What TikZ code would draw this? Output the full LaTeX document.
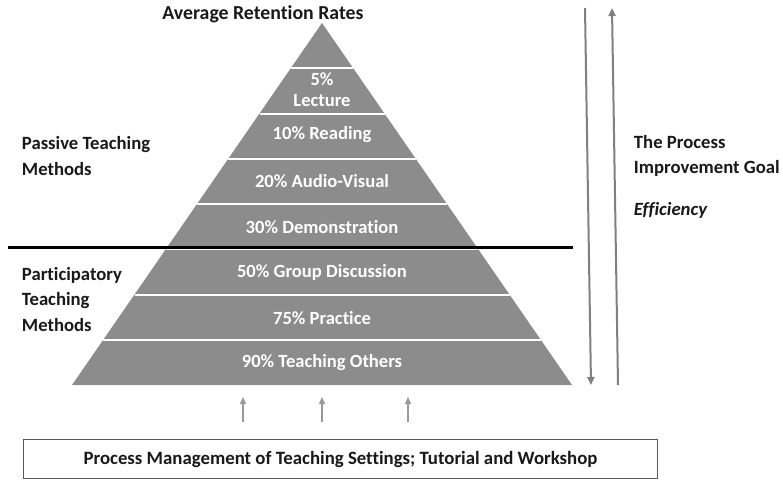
\documentclass[tikz,border=0pt]{standalone}
\usepackage{xcolor}
\usepackage{fontspec}
\setmainfont{Carlito}[Ligatures=NoCommon]
\usepackage{tikz}
\usetikzlibrary{arrows.meta}

\definecolor{pyrgray}{RGB}{140,140,140}
\definecolor{arrgray}{RGB}{128,128,128}
\definecolor{txtdark}{RGB}{25,25,25}

\begin{document}
\begin{tikzpicture}[x=1pt,y=-1pt,
  lbl/.style={inner sep=0.75pt,font=\fontsize{18.7}{25.5}\selectfont\bfseries,text=txtdark,align=left},
  band/.style={inner sep=0.75pt,font=\fontsize{18.6}{21}\selectfont\bfseries,text=white,align=center},
  longarr/.style={draw=arrgray,line width=2pt,-{Triangle[width=7pt,length=8pt]}},
  shortarr/.style={draw=arrgray!80,line width=1.3pt,-{Triangle[width=6pt,length=7pt]}}]
\useasboundingbox (0,0) rectangle (783,480);
% pyramid
\fill[pyrgray] (322,23) -- (572,385) -- (72,385) -- cycle;
\foreach \k in {1,...,7}
  \draw[white,line width=2pt] ({322-31.25*\k},{23+45.25*\k}) -- ({322+31.25*\k},{23+45.25*\k});
\draw[black,line width=2.4pt] (8,247.5) -- (573,247.5);
%Text
\node (title) at (263,14) [lbl,font=\fontsize{19.8}{24}\selectfont\bfseries] {Average Retention Rates};
\node (lecture) at (322,90) [band] {5\%\\Lecture};
\node (reading) at (322,135) [band] {10\% Reading};
\node (audio) at (322,181) [band] {20\% Audio-Visual};
\node (demo) at (322,227) [band] {30\% Demonstration};
\node (group) at (322,272) [band] {50\% Group Discussion};
\node (practice) at (322,318) [band] {75\% Practice};
\node (others) at (322,363) [band] {90\% Teaching Others};
\node (passive) at (21,156) [lbl,anchor=west] {Passive Teaching\\Methods};
\node (particip) at (21,299) [lbl,anchor=west] {Participatory\\Teaching\\Methods};
\node (goal) at (633,156) [lbl,anchor=west] {The Process\\Improvement Goal};
\node (effic) at (633,210) [lbl,anchor=west,font=\fontsize{18.7}{22}\selectfont\bfseries\itshape] {Efficiency};
\node (mgmt) at (340.5,459) [draw=black!65,line width=1.8pt,minimum width=634pt,minimum height=39pt,inner sep=0pt,
  font=\fontsize{18.8}{22}\selectfont\bfseries,text=txtdark] {Process Management of Teaching Settings; Tutorial and Workshop};
% arrows
\coordinate (downtop) at (585,8);
\coordinate (downend) at (591,385);
\coordinate (upfoot) at (618,385);
\coordinate (uptop) at (612,8);
\draw[longarr] (downtop) -- (downend);
\draw[longarr] (upfoot) -- (uptop);
\foreach \x [count=\i] in {243,322,408} {
  \coordinate (foot\i) at (\x,422);
  \coordinate (head\i) at (\x,397);
  \draw[shortarr] (foot\i) -- (head\i);
}
\end{tikzpicture}
\end{document}
